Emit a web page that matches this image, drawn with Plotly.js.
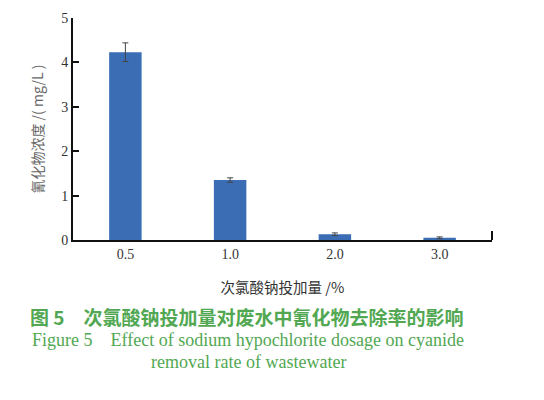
<!DOCTYPE html>
<html>
<head>
<meta charset="utf-8">
<script src="https://cdn.plot.ly/plotly-3.0.1.min.js"></script>
<style>html,body{margin:0;padding:0;background:#fff;}</style>
</head>
<body>
<div id="chart" style="width:544px;height:400px;"></div>
<script>
const categories = ["0.5", "1.0", "2.0", "3.0"];
const cyanideValues = [4.23, 1.35, 0.13, 0.05];
const errorValues = [0.21, 0.05, 0.03, 0.02];
const yTickVals = [0, 1, 2, 3, 4, 5];

const serif = "Liberation Serif, Times New Roman, Noto Sans CJK SC, serif";
const green = "#52a852";

const trace = {
  type: "bar",
  x: categories,
  y: cyanideValues,
  width: 0.31,
  marker: {color: "#3b6db5"},
  error_y: {type: "data", array: errorValues, visible: true, color: "#444", thickness: 1, width: 3}
};

const layout = {
  width: 544, height: 400,
  margin: {l: 73, r: 52, t: 18, b: 160},
  paper_bgcolor: "#fff", plot_bgcolor: "#fff",
  showlegend: false,
  xaxis: {
    type: "category",
    range: [-0.5, 3.5],
    showline: true, linecolor: "#111", linewidth: 2,
    ticks: "", showgrid: false, zeroline: false,
    tickfont: {family: serif, size: 14, color: "#333"},
    title: {text: "次氯酸钠投加量 /%", font: {family: "Noto Sans CJK SC, sans-serif", size: 14.5, color: "#333"}, standoff: 22}
  },
  yaxis: {
    range: [0, 5],
    tickvals: yTickVals,
    showline: true, linecolor: "#111", linewidth: 2,
    ticks: "inside", ticklen: 6, tickwidth: 2, tickcolor: "#111",
    showgrid: false, zeroline: false,
    tickfont: {family: serif, size: 14, color: "#333"},
    title: {text: "氰化物浓度 /( mg/L )", font: {family: "Noto Sans CJK SC, sans-serif", size: 14, color: "#666"}, standoff: 14}
  },
  shapes: [
    {type: "line", xref: "paper", yref: "paper", x0: 1, x1: 1, y0: 0, y1: 0.04, line: {color: "#111", width: 2}}
  ],
  annotations: [
    {text: "<b>图 5　次氯酸钠投加量对废水中氰化物去除率的影响</b>", xref: "paper", yref: "paper", x: 0.415, y: -0.345, xanchor: "center", yanchor: "middle", showarrow: false,
     font: {family: "Noto Sans CJK SC, sans-serif", size: 19, color: green}},
    {text: "Figure 5　Effect of sodium hypochlorite dosage on cyanide", xref: "paper", yref: "paper", x: 0.418, y: -0.45, xanchor: "center", yanchor: "middle", showarrow: false,
     font: {family: serif, size: 18, color: green}},
    {text: "removal rate of wastewater", xref: "paper", yref: "paper", x: 0.418, y: -0.55, xanchor: "center", yanchor: "middle", showarrow: false,
     font: {family: serif, size: 18, color: green}}
  ]
};

Plotly.newPlot("chart", [trace], layout, {displayModeBar: false, staticPlot: true});
</script>
</body>
</html>
